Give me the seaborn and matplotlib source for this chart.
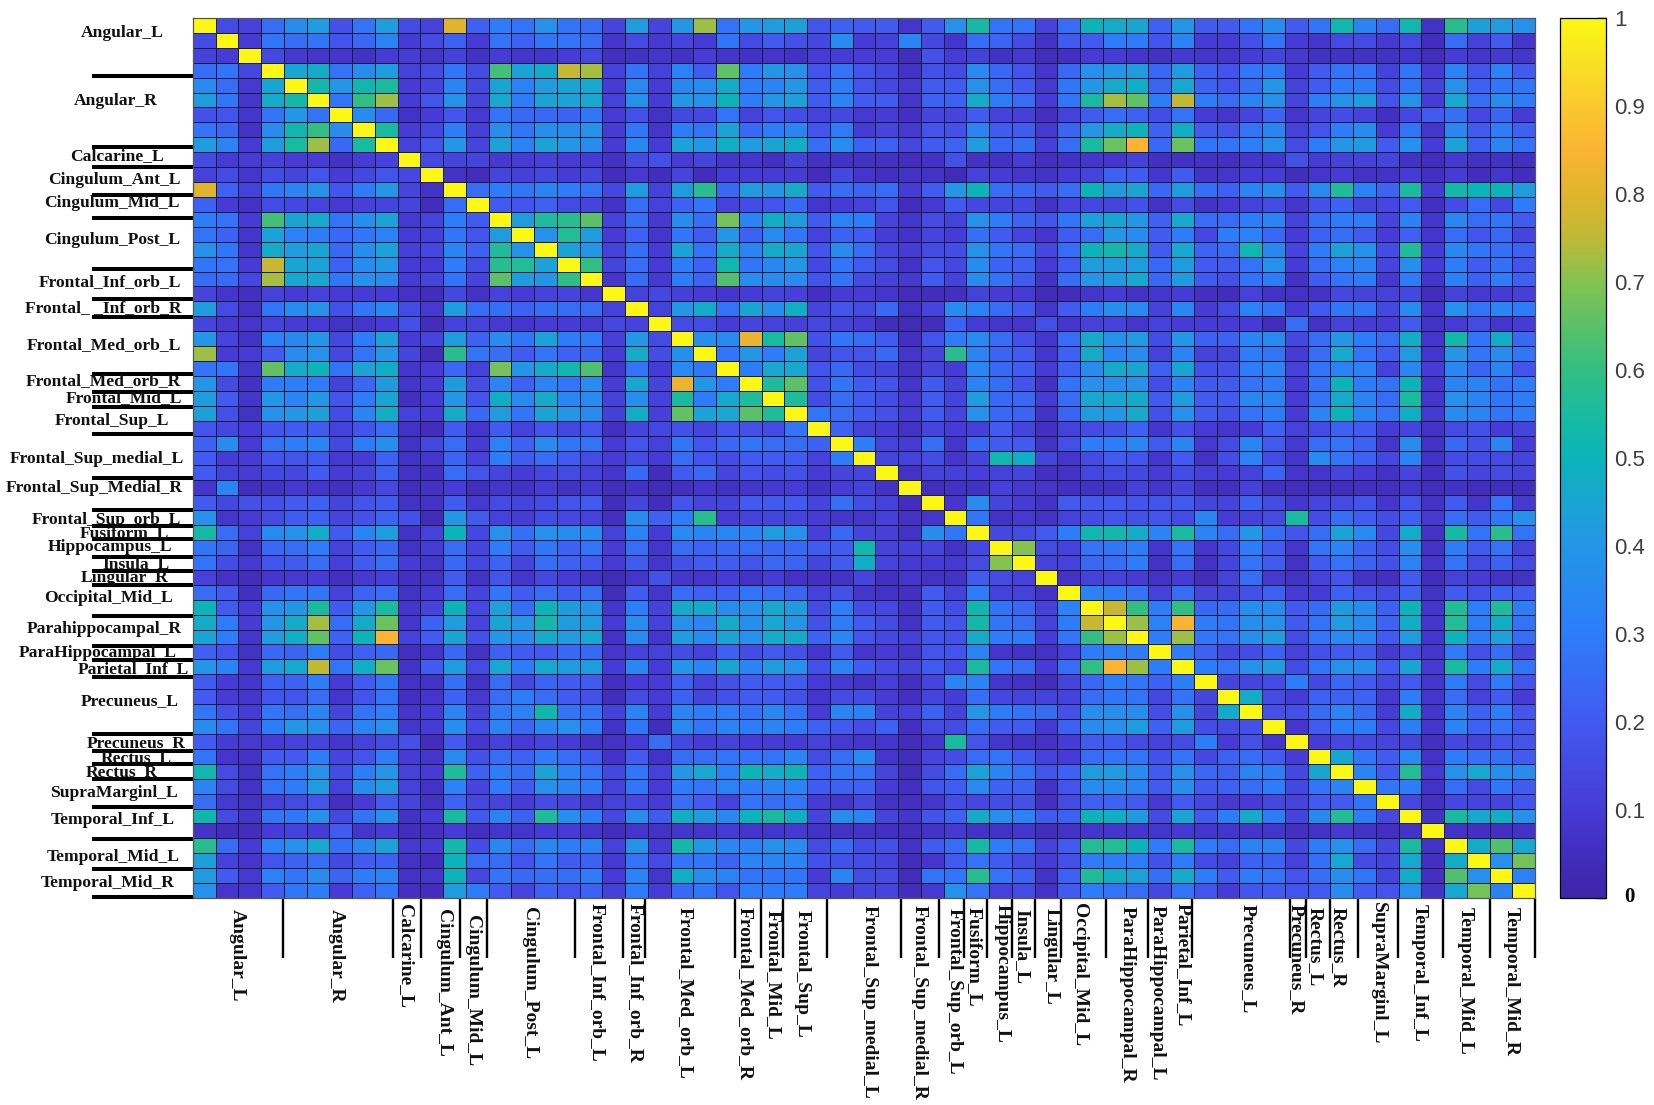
import numpy as np
import pandas as pd
import matplotlib
matplotlib.use("Agg")
import matplotlib.pyplot as plt
from matplotlib.colors import LinearSegmentedColormap
from matplotlib.transforms import ScaledTranslation
import seaborn as sns

W, H = 1654, 1105
L, R, T, B = 193, 1535, 18, 898
CBL, CBR = 1560, 1606

# upper triangle, in hundredths: each row runs from the cell right of the diagonal to the last column
r00 = [15,12,25,36,42,17,27,42,15,12,80,22,30,27,38,28,25,13,42,13,40,72,27,40,42,43,18,22,20,20,8,20,38,54,28,27,12,25,50,47,45,22,40,20,20,28,36,20,28,52,33,25,52,7,58,43,42,38]
r01 = [10,28,25,28,18,24,33,10,15,22,10,27,22,28,27,25,8,15,9,13,10,28,15,20,17,14,36,10,12,33,14,8,25,23,16,7,20,20,30,30,18,33,10,10,17,27,10,8,15,15,9,15,5,25,12,20,8]
r02 = [14,9,8,8,7,10,10,8,12,7,10,8,8,10,14,6,7,8,7,10,8,7,8,7,10,10,10,10,5,17,10,12,7,9,5,6,10,10,8,7,9,8,8,10,13,9,7,7,7,7,8,5,10,8,9,8]
r03 = [45,47,27,36,42,12,15,28,15,62,44,47,76,73,12,27,12,32,20,66,30,40,38,18,27,18,14,7,17,15,35,24,18,8,24,38,40,42,24,42,22,18,28,30,10,20,27,27,12,28,10,32,18,32,20]
r04 = [53,40,52,55,10,13,33,14,45,32,42,45,46,10,35,10,34,36,47,30,33,40,20,30,18,14,9,20,20,38,25,20,9,28,40,47,48,23,46,22,18,26,40,12,20,30,30,15,28,12,38,22,28,28]
r05 = [27,60,72,10,18,38,13,46,30,45,44,46,12,38,10,40,38,50,30,40,43,20,33,20,20,8,22,22,47,30,25,10,28,55,73,66,30,75,30,25,33,38,13,30,38,42,18,38,10,46,25,36,30]
r06 = [36,24,7,10,19,9,27,24,24,22,28,10,17,7,14,14,27,12,18,16,12,14,9,10,6,13,13,20,12,11,6,12,20,25,22,16,27,10,8,13,23,8,13,16,12,6,14,20,26,14,23,10]
r07 = [55,10,14,30,11,37,28,37,36,38,10,28,8,30,27,44,24,30,33,18,29,10,13,9,18,17,33,20,20,9,23,40,47,50,22,48,20,18,27,33,12,18,30,36,10,27,8,34,20,30,22]
r08 = [12,18,40,13,44,32,44,40,36,10,34,10,44,40,48,42,45,48,25,37,22,22,14,20,23,42,24,26,11,25,55,67,85,24,67,28,27,31,38,15,30,40,42,20,38,10,44,22,33,27]
r09 = [14,13,13,9,10,11,10,10,7,15,17,10,13,8,8,6,12,7,7,7,7,5,7,17,7,7,10,6,7,8,8,12,6,7,7,6,8,8,17,10,12,12,13,7,5,9,7,7,6]
r10 = [7,5,13,11,14,10,13,5,9,5,13,5,10,10,10,10,5,14,8,6,7,7,4,12,10,8,7,10,13,22,20,8,20,7,8,10,10,5,8,10,7,7,10,6,10,5,8,5]
r11 = [25,30,28,33,30,27,14,42,12,42,58,24,42,40,47,20,25,23,25,10,20,40,50,25,24,20,25,50,42,45,24,42,26,22,33,37,20,35,56,32,23,55,10,53,50,50,42]
r12 = [20,18,22,15,13,7,25,12,22,28,12,16,18,24,8,10,12,18,5,9,20,14,13,14,7,13,14,13,17,7,15,7,9,12,16,8,17,22,13,14,20,6,16,25,14,30]
r13 = [42,56,58,65,12,26,9,36,26,68,33,48,42,20,32,30,13,8,15,12,38,30,23,18,28,43,45,40,22,46,25,25,30,33,12,25,30,30,13,32,8,34,25,28,20]
r14 = [38,57,42,10,22,8,28,20,40,22,35,28,12,22,20,10,7,13,10,26,20,13,8,20,25,40,36,20,30,14,30,32,24,10,22,26,20,10,22,8,25,18,24,13]
r15 = [44,40,12,26,10,44,27,47,33,47,45,18,36,25,14,10,15,16,38,28,25,14,25,50,53,47,20,46,23,25,52,34,13,30,44,38,16,56,10,34,28,26,22]
r16 = [60,13,25,10,30,22,52,28,34,40,14,28,20,15,7,18,14,36,22,22,10,20,42,42,42,24,42,20,20,27,38,10,25,32,33,13,37,10,30,20,26,18]
r17 = [8,25,9,30,23,64,36,36,36,18,27,15,12,9,20,12,36,27,20,7,25,40,42,46,24,42,20,17,27,30,7,20,27,30,9,30,8,32,22,30,22]
r18 = [12,14,11,10,8,10,12,11,6,10,10,8,5,5,6,12,10,10,4,5,8,10,7,8,10,6,5,12,7,7,7,14,12,12,14,5,12,9,10,11]
r19 = [12,40,47,27,45,37,48,13,18,15,24,7,13,36,32,25,20,8,20,30,37,35,12,34,10,15,32,28,10,20,28,28,14,36,8,38,27,33,30]
r20 = [15,16,10,13,12,11,14,12,10,5,4,5,22,10,8,8,17,8,12,12,8,12,10,10,10,10,5,25,7,12,10,10,20,7,10,15,8,10]
r21 = [37,35,82,55,66,17,28,25,20,6,18,30,35,25,17,8,25,47,38,42,16,40,22,22,33,35,14,25,40,30,25,48,8,53,28,48,24]
r22 = [28,40,30,44,13,18,18,24,8,13,58,33,23,20,8,22,47,33,36,12,33,12,13,30,27,10,25,46,27,20,42,8,40,28,36,28]
r23 = [30,46,46,18,24,16,13,7,13,10,34,24,21,10,22,36,47,45,22,45,17,17,30,33,12,27,32,32,12,34,10,34,23,33,18]
r24 = [56,65,17,28,20,18,8,20,12,33,25,18,7,27,38,37,38,16,33,20,20,27,30,10,27,50,30,27,50,8,33,33,27,30]
r25 = [56,15,25,20,16,9,20,13,42,24,24,10,25,46,46,47,20,42,20,20,34,33,10,27,47,33,25,55,8,38,33,28,30]
r26 = [28,25,20,17,10,20,13,38,24,23,7,23,42,40,47,17,38,20,17,27,30,10,33,50,33,27,48,9,36,33,28,30]
r27 = [22,12,10,7,13,10,11,20,13,6,12,15,17,22,8,17,10,8,10,22,12,15,22,20,10,13,7,15,17,10,13]
r28 = [30,13,10,26,8,24,20,20,7,17,30,30,34,20,33,9,15,33,20,9,25,27,22,8,36,7,24,17,33,10]
r29 = [13,12,16,8,13,52,48,13,8,15,20,18,8,20,7,16,32,16,8,35,27,22,14,33,7,16,16,15,13]
r30 = [7,12,11,11,12,13,6,7,14,15,14,10,16,11,10,12,22,8,8,13,10,7,13,6,17,13,15,13]
r31 = [5,7,7,11,9,8,6,7,7,11,8,13,6,6,11,6,5,5,5,6,6,8,5,7,5,5,5]
r32 = [8,36,13,10,7,20,20,20,18,18,20,13,13,22,15,8,13,15,18,8,18,7,20,8,27,9]
r33 = [28,7,9,7,12,16,18,17,18,15,33,10,12,15,55,16,25,21,16,22,9,25,20,28,38]
r34 = [14,15,20,30,52,53,47,33,55,33,25,40,25,18,25,44,35,14,47,7,54,27,58,27]
r35 = [70,15,12,27,28,30,8,27,8,14,30,20,8,27,33,22,16,37,7,30,20,27,12]
r36 = [12,12,24,25,30,7,25,7,13,27,20,7,20,27,22,17,32,8,27,15,22,15]
r37 = [7,12,12,10,7,10,5,12,25,9,7,12,18,7,6,20,5,12,10,7,7]
r38 = [32,30,27,12,25,13,12,17,22,10,10,22,18,15,22,7,20,17,22,20]
r39 = [76,60,30,60,24,25,37,36,20,25,42,36,22,50,8,57,30,56,30]
r40 = [72,32,85,30,28,37,38,20,27,42,36,23,48,8,57,30,48,27]
r41 = [30,72,28,27,37,42,15,27,36,33,20,42,8,50,30,44,25]
r42 = [30,22,14,16,22,12,17,20,20,9,15,8,30,17,26,14]
r43 = [30,27,38,42,15,27,38,37,20,45,9,55,30,47,27]
r44 = [13,13,16,30,14,24,20,14,20,8,30,15,30,18]
r45 = [47,15,10,22,22,22,9,30,8,25,12,20,10]
r46 = [17,17,25,33,25,10,47,8,33,22,30,19]
r47 = [8,20,30,30,14,30,8,33,22,27,20]
r48 = [10,14,14,13,13,6,14,12,18,18]
r49 = [45,28,20,35,7,30,26,26,20]
r50 = [33,20,57,9,38,46,37,36]
r51 = [28,30,7,25,15,28,20]
r52 = [14,6,14,13,13,18]
r53 = [7,55,46,48,38]
r54 = [7,6,6,7]
r55 = [47,64,46]
r56 = [38,68]
r57 = [32]
upper_rows = [r00,r01,r02,r03,r04,r05,r06,r07,r08,r09,r10,r11,r12,r13,r14,r15,r16,r17,r18,r19,
              r20,r21,r22,r23,r24,r25,r26,r27,r28,r29,r30,r31,r32,r33,r34,r35,r36,r37,r38,r39,
              r40,r41,r42,r43,r44,r45,r46,r47,r48,r49,r50,r51,r52,r53,r54,r55,r56,r57]

y_labels = ["Angular_L","Angular_R","Calcarine_L","Cingulum_Ant_L","Cingulum_Mid_L","Cingulum_Post_L",
            "Frontal_Inf_orb_L","Frontal_ _Inf_orb_R","Frontal_Med_orb_L","Frontal_Med_orb_R","Frontal_Mid_L",
            "Frontal_Sup_L","Frontal_Sup_medial_L","Frontal_Sup_Medial_R","Frontal_Sup_orb_L","Fusiform_L",
            "Hippocampus_L","Insula_L","Lingular_R","Occipital_Mid_L","Parahippocampal_R","ParaHippocampal_L",
            "Parietal_Inf_L","Precuneus_L","Precuneus_R","Rectus_L","Rectus_R","SupraMarginl_L","Temporal_Inf_L",
            "Temporal_Mid_L","Temporal_Mid_R"]
x_labels = ["Angular_L","Angular_R","Calcarine_L","Cingulum_Ant_L","Cingulum_Mid_L","Cingulum_Post_L",
            "Frontal_Inf_orb_L","Frontal_Inf_orb_R","Frontal_Med_orb_L","Frontal_Med_orb_R","Frontal_Mid_L",
            "Frontal_Sup_L","Frontal_Sup_medial_L","Frontal_Sup_medial_R","Frontal_Sup_orb_L","Fusiform_L",
            "Hippocampus_L","Insula_L","Lingular_L","Occipital_Mid_L","ParaHippocampal_R","ParaHippocampal_L",
            "Parietal_Inf_L","Precuneus_L","Precuneus_R","Rectus_L","Rectus_R","SupraMarginl_L","Temporal_Inf_L",
            "Temporal_Mid_L","Temporal_Mid_R"]

# label placement in pixels of the picture
y_label_x = [122,116,117,114,112,112,110,103,104,103,124,112,97,94,106,124,110,136,125,108,104,98,133,130,136,136,122,114,113,113,108]
y_label_y = [33,101,156,180,203,240,282,308,345,381,398,421,459,488,520,533,547,564,578,598,629,653,669,701,743,758,772,793,820,857,883]
x_label_x = [237,336,405,444,473,529,597,635,685,745,773,802,869,919,954,974,1002,1022,1051,1079,1127,1157,1183,1248,1296,1315,1338,1378,1419,1465,1511]
x_label_y = [909,909,904,909,915,907,903,903,907,907,910,910,905,905,908,907,904,909,908,903,906,905,903,904,904,907,907,902,904,907,907]
# group separators, in pixels of the picture
y_sep_px = [76,147,167,195,218,269,299,317,374,392,407,434,478,510,526,539,557,571,585,616,646,660,677,734,751,764,779,807,839,869,897]
x_sep_px = [283,393,421,460,487,575,623,645,735,761,783,827,901,939,964,987,1012,1035,1061,1106,1148,1192,1290,1306,1330,1358,1398,1443,1490,1535]

cb_ticks = [0,0.1,0.2,0.3,0.4,0.5,0.6,0.7,0.8,0.9,1]
cb_labels = ["0","0.1","0.2","0.3","0.4","0.5","0.6","0.7","0.8","0.9","1"]

cmap_pos = [0,.05,.1,.2,.3,.4,.45,.5,.55,.6,.7,.75,.8,.85,.9,.95,1]
cmap_rgb = [(62,38,168),(66,45,190),(70,60,215),(65,90,240),(45,125,250),(35,150,230),(25,165,210),(10,180,185),
            (25,187,160),(50,190,130),(130,195,80),(190,185,55),(225,180,45),(250,180,50),(250,200,45),(248,225,35),(252,248,20)]
parula_like = LinearSegmentedColormap.from_list(
    "parula_like", [(p, tuple(c/255 for c in rgb)) for p, rgb in zip(cmap_pos, cmap_rgb)], N=256)

N = len(upper_rows) + 1
for i, row in enumerate(upper_rows):
    if len(row) != N - 1 - i:
        raise ValueError(f"row {i}: {len(row)} != {N-1-i}")
mat = np.eye(N)
for i, row in enumerate(upper_rows):
    mat[i, i+1:] = np.array(row) / 100
    mat[i+1:, i] = np.array(row) / 100
df = pd.DataFrame(mat)

sns.set_theme(style="white")
fig = plt.figure(figsize=(W/100, H/100), dpi=100, facecolor="white")
ax = fig.add_axes([L/W, 1-B/H, (R-L)/W, (B-T)/H])
cax = fig.add_axes([CBL/W, 1-B/H, (CBR-CBL)/W, (B-T)/H])

sns.heatmap(df, ax=ax, cbar_ax=cax, cmap=parula_like, vmin=0, vmax=1,
            linewidths=0.5, linecolor="#1b1b3a", xticklabels=False, yticklabels=False, square=False)

cell_w = (R-L)/N
cell_h = (B-T)/N
ax.set_yticks([(y-T)/cell_h for y in y_sep_px])
ax.set_xticks([(x-L)/cell_w for x in x_sep_px])
ax.set_xticklabels([]); ax.set_yticklabels([])
ax.tick_params(axis="y", left=True, length=73, width=2.9, color="black", direction="out")
ax.tick_params(axis="x", bottom=True, length=43, width=1.7, color="black", direction="out")
for s in ax.spines.values():
    s.set_visible(True); s.set_color("#555555"); s.set_linewidth(0.9)

serif = "Liberation Serif"
for lab, x, y in zip(y_labels, y_label_x, y_label_y):
    fig.text(x/W, 1-y/H, lab, family=serif, weight="bold", fontsize=12.6, ha="center", va="center", color="#111111", zorder=5)
for lab, x, y in zip(x_labels, x_label_x, x_label_y):
    fig.text(x/W, 1-y/H, lab, family=serif, weight="bold", fontsize=14, rotation=270, ha="center", va="top", color="#111111", zorder=5)

cb = ax.collections[0].colorbar
cb.set_ticks(cb_ticks)
cb.set_ticklabels(cb_labels)
cb.outline.set_visible(True); cb.outline.set_edgecolor("black"); cb.outline.set_linewidth(0.9)
cax.yaxis.set_ticks_position("right")
cax.tick_params(axis="y", which="major", right=True, length=6.5, width=1.0, direction="in", color="black", pad=6)
for tick in cax.yaxis.get_major_ticks():
    tick.tick2line.set_zorder(10)
for t, s in zip(cax.get_yticklabels(), cb_labels):
    if s == "0":
        t.set_family(serif); t.set_weight("bold"); t.set_fontsize(15); t.set_color("black")
        t.set_transform(t.get_transform() + ScaledTranslation(10/100, 3/100, fig.dpi_scale_trans))
    else:
        t.set_family("Liberation Sans"); t.set_fontsize(16); t.set_color("#404040")

fig.savefig("out.png", dpi=100, facecolor="white")
